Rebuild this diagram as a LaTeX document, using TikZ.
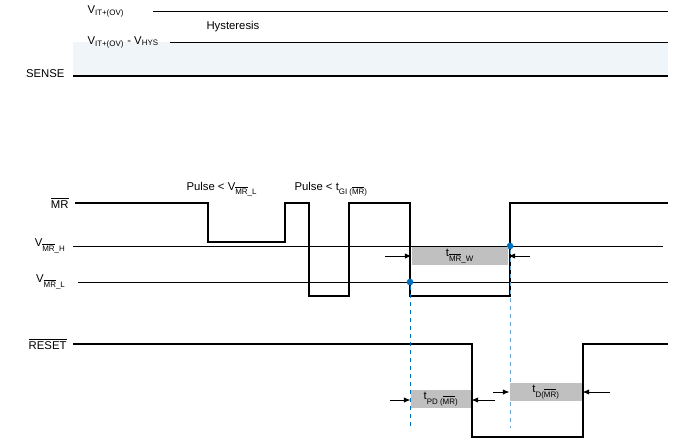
\documentclass[tikz,border=0pt]{standalone}
\usepackage{fontspec}
\setmainfont{Liberation Sans}
\usetikzlibrary{arrows.meta}
\definecolor{sensefill}{RGB}{240,245,250}
\definecolor{boxgray}{RGB}{192,192,192}
\definecolor{markblue}{RGB}{0,112,192}
\newcommand{\ovr}[1]{$\overline{\mbox{#1}}$}
\tikzset{every picture/.style={line width=0.75pt}}
\tikzset{
  lbl/.style={inner sep=0.75pt,font=\fontsize{8.5}{10}\selectfont},
  wave/.style={line width=1.2pt},
  tbox/.style={fill=boxgray,draw=none,inner sep=0pt,minimum height=13.5pt,font=\fontsize{8.5}{10}\selectfont},
  tarrow/.style={-{Latex[length=5pt,width=4pt]},line width=0.6pt},
  guide/.style={color=markblue,dashed,line width=0.6pt},
  dot/.style={circle,fill=markblue,inner sep=0pt,minimum size=5pt}
}
\begin{document}
\begin{tikzpicture}[x=0.75pt,y=0.75pt,yscale=-1,xscale=1]
\useasboundingbox (0,0) rectangle (678,439);

%SENSE levels
\fill [sensefill] (73,42) rectangle (668,75);
\draw (153,11) -- (668,11);
\draw (170,42) -- (668,42);
\draw [line width=1.2pt] (73,76) -- (668,76);
\node [lbl,anchor=west] (vit) at (86,11) {V\textsubscript{IT+(OV)}};
\node [lbl,anchor=west] (hys) at (205,27) {Hysteresis};
\node [lbl,anchor=west] (vhys) at (86,42) {V\textsubscript{IT+(OV)} - V\textsubscript{HYS}};
\node [lbl,anchor=east] (sense) at (66,74) {SENSE};

%MR thresholds
\draw (73,246) -- (663,246);
\draw (78,282) -- (668,282);
\node [lbl,anchor=east] (mr) at (70,203) {\ovr{MR}};
\node [lbl,anchor=east] (vmrh) at (67,246) {V\textsubscript{\ovr{MR}\_H}};
\node [lbl,anchor=east] (vmrl) at (67,282) {V\textsubscript{\ovr{MR}\_L}};
\node [lbl,anchor=west] (p1) at (185,189) {Pulse < V\textsubscript{\ovr{MR}\_L}};
\node [lbl,anchor=west] (p2) at (293,189) {Pulse < t\textsubscript{GI (\ovr{MR})}};

%MR waveform
\draw [wave] (75,203) -- (208,203) -- (208,242) -- (285,242) -- (285,203) -- (309,203)
  -- (309,296) -- (349,296) -- (349,203) -- (410,203) -- (410,296) -- (510,296)
  -- (510,203) -- (668,203);

%RESET waveform
\node [lbl,anchor=east] (reset) at (68,344) {\ovr{RESET}};
\draw [wave] (73,344) -- (472,344) -- (472,437) -- (583,437) -- (583,344) -- (668,344);

%guides
\node [dot] (d1) at (410,282) {};
\node [dot] (d2) at (510,246) {};
\coordinate (g1) at (410,428);
\coordinate (g2) at (510,428);
\draw [guide] (d1) -- (g1);
\draw [guide,color=markblue!60] (d2) -- (g2);

%timing boxes
\node [tbox,minimum width=72pt] (tw) at (460,256) {t\textsubscript{\ovr{MR}\_W}};
\node [tbox,minimum width=45pt] (tpd) at (441,399) {t\textsubscript{PD (\ovr{MR})}};
\node [tbox,minimum width=54pt] (td) at (546,392) {t\textsubscript{D(\ovr{MR})}};
\coordinate (a1) at (385,256);
\coordinate (a2) at (530,256);
\coordinate (a3) at (390,400);
\coordinate (a4) at (495,400);
\coordinate (a5) at (493,392);
\coordinate (a6) at (610,392);
\draw [tarrow] (a1) -- (tw.west);
\draw [tarrow] (a2) -- (tw.east);
\draw [tarrow] (a3) -- (tpd.west |- a3);
\draw [tarrow] (a4) -- (tpd.east |- a4);
\draw [tarrow] (a5) -- (td.west);
\draw [tarrow] (a6) -- (td.east);
\end{tikzpicture}
\end{document}
